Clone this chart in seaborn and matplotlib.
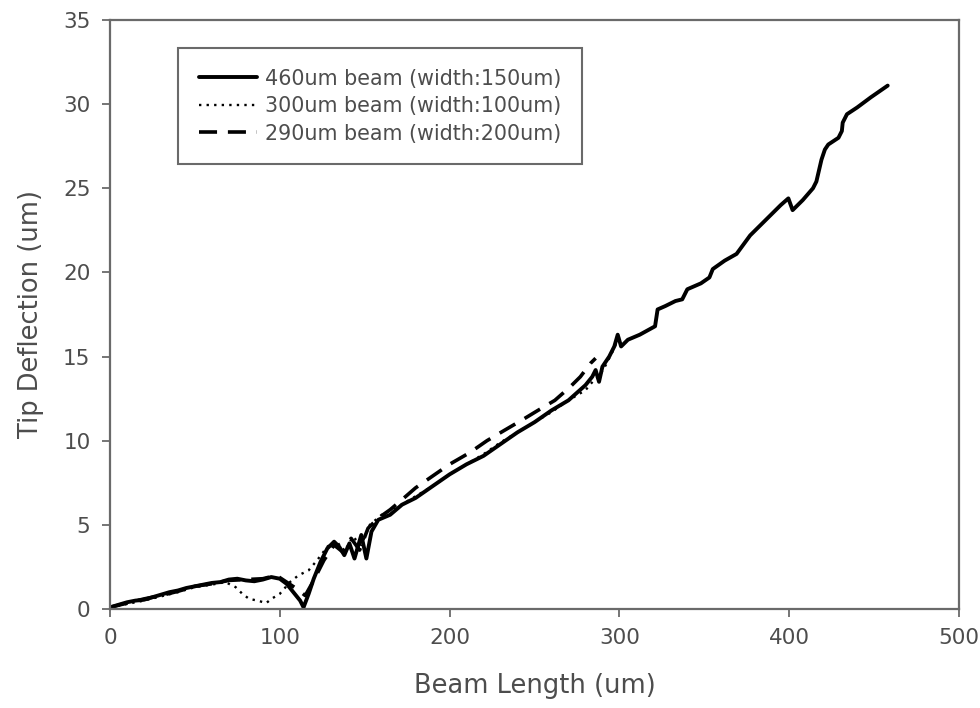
import matplotlib
matplotlib.use("Agg")
import matplotlib.pyplot as plt
import numpy as np
import pandas as pd
import seaborn as sns

# 460um beam (width 150um)
beam460_x = [0, 5, 10, 15, 20, 25, 30, 35, 40, 45, 50, 55, 60, 65, 70, 75, 80, 85,
             90, 95, 100, 104, 108, 112, 114, 117, 120, 124, 128, 132, 135, 138,
             141, 144, 148, 151, 154, 158, 165, 172, 180, 190, 200, 210, 220, 230,
             240, 250, 260, 270, 280, 284, 286, 288, 290, 294, 297, 299, 301, 305,
             312, 321, 322.5, 327, 333, 337, 340, 348, 353, 355, 362, 369, 377, 383,
             389, 395, 399.5, 402, 408, 414, 416, 419, 421, 423, 429, 431, 431.5,
             434, 440, 448, 458]
beam460_y = [0.1, 0.25, 0.4, 0.5, 0.55, 0.7, 0.85, 1.0, 1.1, 1.25, 1.35, 1.45, 1.55,
             1.6, 1.75, 1.8, 1.7, 1.65, 1.75, 1.9, 1.8, 1.5, 1.0, 0.5, 0.1, 0.9, 1.8,
             2.8, 3.6, 4.0, 3.7, 3.2, 3.9, 3.0, 4.4, 3.0, 4.6, 5.3, 5.6, 6.2, 6.6,
             7.3, 8.0, 8.6, 9.1, 9.8, 10.5, 11.1, 11.8, 12.4, 13.3, 13.8, 14.2, 13.5,
             14.4, 15.0, 15.6, 16.3, 15.6, 16.0, 16.3, 16.8, 17.8, 18.0, 18.3, 18.4,
             19.0, 19.35, 19.7, 20.2, 20.7, 21.1, 22.2, 22.8, 23.4, 24.0, 24.4, 23.7,
             24.3, 25.0, 25.4, 26.7, 27.3, 27.6, 28.0, 28.4, 28.9, 29.4, 29.8, 30.4,
             31.1]

# 300um beam (width 100um)
beam300_x = [0, 10, 20, 30, 40, 50, 60, 68, 74, 78, 82, 87, 92, 95, 100, 106, 111,
             117, 122, 128, 133, 138, 143, 148, 153, 160, 170, 180, 190, 200, 210,
             220, 230, 240, 250, 260, 270, 280, 285, 288, 292, 296, 300]
beam300_y = [0.1, 0.3, 0.5, 0.75, 1.0, 1.3, 1.45, 1.6, 1.3, 0.9, 0.6, 0.5, 0.35, 0.6,
             0.9, 1.6, 2.0, 2.3, 2.9, 3.7, 4.1, 3.4, 4.3, 3.8, 5.0, 5.6, 6.1, 6.7,
             7.3, 8.0, 8.6, 9.2, 9.9, 10.5, 11.1, 11.7, 12.4, 13.0, 13.6, 13.8, 14.5,
             15.3, 16.2]

# 290um beam (width 200um)
beam290_x = [0, 10, 20, 30, 40, 50, 60, 70, 80, 90, 98, 104, 110, 115, 120, 126,
             132, 137, 142, 147, 152, 158, 165, 172, 180, 190, 200, 212, 222, 232,
             243, 252, 262, 271, 277, 283, 286]
beam290_y = [0.1, 0.35, 0.6, 0.8, 1.05, 1.35, 1.5, 1.7, 1.75, 1.8, 2.0, 1.6, 1.2,
             0.8, 1.7, 2.9, 3.8, 3.4, 4.2, 3.5, 4.8, 5.4, 5.9, 6.5, 7.2, 7.9, 8.6,
             9.3, 10.0, 10.6, 11.25, 11.8, 12.4, 13.2, 13.8, 14.6, 14.9]

series_labels = ["460um beam (width:150um)",
                 "300um beam (width:100um)",
                 "290um beam (width:200um)"]

x_ticks = [0, 100, 200, 300, 400, 500]
y_ticks = [0, 5, 10, 15, 20, 25, 30, 35]

sns.set_theme(style="white")
plt.rcParams["font.family"] = ["DejaVu Sans"]

text_grey = "#4d4d4d"
frame_grey = "#6a6a6a"

fig = plt.figure(figsize=(9.8, 7.08), dpi=100)
ax = fig.add_axes([0.1122, 0.1398, 0.8664, 0.832])

df460 = pd.DataFrame({"x": beam460_x, "y": beam460_y})
df300 = pd.DataFrame({"x": beam300_x, "y": beam300_y})
df290 = pd.DataFrame({"x": beam290_x, "y": beam290_y})

sns.lineplot(data=df460, x="x", y="y", ax=ax, color="black", linewidth=2.8,
             linestyle="-", label=series_labels[0], sort=False, estimator=None)
sns.lineplot(data=df300, x="x", y="y", ax=ax, color="black", linewidth=1.7,
             linestyle=(0, (1, 2.2)), label=series_labels[1], sort=False, estimator=None)
sns.lineplot(data=df290, x="x", y="y", ax=ax, color="black", linewidth=2.6,
             linestyle=(0, (5, 3)), label=series_labels[2], sort=False, estimator=None)

ax.set_xlim(0, 500)
ax.set_ylim(0, 35)
ax.set_xticks(x_ticks)
ax.set_yticks(y_ticks)
ax.tick_params(axis="both", which="major", direction="out", length=6, width=1.3,
               color=frame_grey, labelcolor=text_grey, labelsize=15.5, pad=8,
               bottom=True, left=True)
for side in ["left", "right", "top", "bottom"]:
    ax.spines[side].set_visible(True)
    ax.spines[side].set_color(frame_grey)
    ax.spines[side].set_linewidth(1.6)

ax.set_xlabel("Beam Length (um)", fontsize=18.5, color=text_grey, labelpad=18)
ax.set_ylabel("Tip Deflection (um)", fontsize=18.5, color=text_grey, labelpad=14)

leg = ax.legend(loc="upper left", bbox_to_anchor=(0.08, 0.9525), borderaxespad=0,
                fontsize=14.9, handlelength=2.8, handletextpad=0.4,
                labelspacing=0.36, borderpad=1.0, frameon=True, fancybox=False,
                framealpha=1)
leg.get_frame().set_edgecolor(frame_grey)
leg.get_frame().set_linewidth(1.5)
for t in leg.get_texts():
    t.set_color(text_grey)

fig.savefig("out.png", dpi=100, facecolor="white")
